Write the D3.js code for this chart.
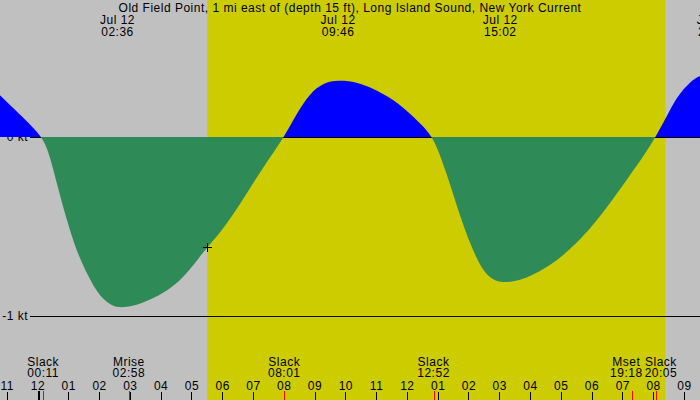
<!DOCTYPE html>
<html>
<head>
<meta charset="utf-8">
<script src="https://cdn.jsdelivr.net/npm/d3@7"></script>
<style>
  body { margin: 0; background: #fff; }
  svg { display: block; font-family: "Liberation Sans", Arial, sans-serif; font-size: 12px; letter-spacing: 0.5px; }
</style>
</head>
<body>
<div id="chart"></div>
<script>
var width = 700;
var height = 400;

var title = "Old Field Point, 1 mi east of (depth 15 ft), Long Island Sound, New York Current";
var dayLabel = "Jul 12";

// current samples: hours after midnight Jul 12, knots (+ flood, - ebb)
var flowHours = [-1.22, -0.51, 0.18, 0.41, 0.68, 0.95, 1.22, 1.49, 1.76, 2.03, 2.36, 2.60,
    3.11, 3.66, 4.20, 4.74, 5.28, 5.52, 5.93, 6.35, 6.80, 7.34, 8.02, 8.42, 8.85, 9.29,
    9.77, 10.37, 10.91, 11.45, 11.99, 12.43, 12.87, 13.29, 13.73, 14.05, 14.38, 14.70,
    15.03, 15.46, 15.89, 16.43, 16.98, 17.52, 18.06, 18.60, 19.14, 19.68, 20.08, 20.44,
    20.77, 21.20, 21.52, 22.00];
var flowKnots = [0.234, 0.116, 0, -0.110, -0.295, -0.463, -0.612, -0.723, -0.814, -0.890, -0.936, -0.955,
    -0.946, -0.909, -0.862, -0.786, -0.667, -0.615, -0.535, -0.435, -0.314, -0.166, 0, 0.132, 0.244, 0.303,
    0.318, 0.308, 0.271, 0.221, 0.150, 0.076, 0, -0.202, -0.444, -0.592, -0.723, -0.788,
    -0.815, -0.807, -0.788, -0.741, -0.676, -0.593, -0.490, -0.370, -0.240, -0.110, 0, 0.113,
    0.225, 0.308, 0.346, 0.360];

// max current times (top labels)
var peakTimes = ["02:36", "09:46", "15:02", "21:59"];

// events along the bottom
var eventNames = ["Slack", "Mrise", "Slack", "Slack", "Mset", "Slack"];
var eventTimes = ["00:11", "02:58", "08:01", "12:52", "19:18", "20:05"];

var sunTimes = ["05:31", "20:24"];   // sunrise, sunset
var markTime = "05:31";              // cross on the curve

var knotTicks = [0, -1];
var hourTicks = d3.range(-1, 22);

function hrs(s) {
    var p = s.split(":");
    return +p[0] + (+p[1]) / 60;
}

var flow = flowHours.map(function (h, i) { return { t: h, v: flowKnots[i] }; });

var x = d3.scaleLinear().domain([0, 20]).range([37.5, 653.1]);
var y = d3.scaleLinear().domain([-1, 0]).range([316, 137]);

var svg = d3.select('#chart')
    .append('svg')
    .attr('width', width)
    .attr('height', height);

// night background + daylight band
svg.append('rect')
    .attr('width', width).attr('height', height)
    .attr('fill', '#c0c0c0');

svg.append('rect')
    .attr('x', x(hrs(sunTimes[0])))
    .attr('y', 0)
    .attr('width', x(hrs(sunTimes[1])) - x(hrs(sunTimes[0])))
    .attr('height', height)
    .attr('fill', '#cccc00');

// knot reference lines (drawn under the fills)
svg.selectAll('.kline')
    .data(knotTicks)
    .enter()
    .append('line')
    .attr('class', 'kline')
    .attr('x1', 30).attr('x2', width)
    .attr('y1', function (d) { return y(d) + 0.5; })
    .attr('y2', function (d) { return y(d) + 0.5; })
    .attr('stroke', '#000')
    .attr('shape-rendering', 'crispEdges');

svg.selectAll('.klabel')
    .data(knotTicks)
    .enter()
    .append('text')
    .attr('class', 'klabel')
    .attr('x', 28)
    .attr('y', function (d) { return y(d); })
    .attr('dy', '0.35em')
    .attr('text-anchor', 'end')
    .text(function (d) { return d + " kt"; });

// flood above zero in blue, ebb below in green
var defs = svg.append('defs');
defs.append('clipPath').attr('id', 'above')
    .append('rect').attr('x', 0).attr('y', 0).attr('width', width).attr('height', y(0));
defs.append('clipPath').attr('id', 'below')
    .append('rect').attr('x', 0).attr('y', y(0)).attr('width', width).attr('height', height - y(0));

var area = d3.area()
    .x(function (d) { return x(d.t); })
    .y0(y(0))
    .y1(function (d) { return y(d.v); })
    .curve(d3.curveBasis);

svg.append('path')
    .datum(flow)
    .attr('d', area)
    .attr('fill', '#0000ff')
    .attr('clip-path', 'url(#above)');

svg.append('path')
    .datum(flow)
    .attr('d', area)
    .attr('fill', '#2e8b57')
    .attr('clip-path', 'url(#below)');

// cross marker on the curve
var mt = hrs(markTime);
var bi = d3.bisector(function (d) { return d.t; }).left(flow, mt);
var a = flow[Math.max(bi - 1, 0)], b = flow[bi];
var mv = b.t === a.t ? b.v : a.v + (b.v - a.v) * (mt - a.t) / (b.t - a.t);
var cross = svg.append('g')
    .attr('transform', 'translate(' + Math.round(x(mt)) + ',' + Math.round(y(mv)) + ')');
cross.append('line').attr('x1', -4.5).attr('x2', 4.5).attr('y1', 0.5).attr('y2', 0.5)
    .attr('stroke', '#000').attr('shape-rendering', 'crispEdges');
cross.append('line').attr('x1', 0.5).attr('x2', 0.5).attr('y1', -4.5).attr('y2', 4.5)
    .attr('stroke', '#000').attr('shape-rendering', 'crispEdges');

// title + peak labels
svg.append('text')
    .attr('x', width / 2).attr('y', 12)
    .attr('text-anchor', 'middle')
    .text(title);

var peaks = svg.selectAll('.peak')
    .data(peakTimes)
    .enter()
    .append('text')
    .attr('class', 'peak')
    .attr('text-anchor', 'middle')
    .attr('transform', function (d) { return 'translate(' + x(hrs(d)) + ',0)'; });
peaks.append('tspan').attr('x', 0).attr('y', 24).text(dayLabel);
peaks.append('tspan').attr('x', 0).attr('y', 36).text(function (d) { return d; });

// hour axis
var axis = d3.axisTop(x)
    .tickValues(hourTicks)
    .tickSize(8)
    .tickPadding(2)
    .tickFormat(function (h) {
        var v = ((h % 12) + 12) % 12 || 12;
        return (v < 10 ? '0' : '') + v;
    });

var gAxis = svg.append('g')
    .attr('transform', 'translate(0,' + height + ')')
    .call(axis);
gAxis.select('.domain').remove();
gAxis.selectAll('line').attr('shape-rendering', 'crispEdges');
gAxis.selectAll('text')
    .attr('font-family', '"Liberation Sans", Arial, sans-serif')
    .attr('font-size', 12)
    .attr('fill', '#000');

// day boundary at midnight
svg.append('line')
    .attr('x1', Math.round(x(0)) + 1).attr('x2', Math.round(x(0)) + 1)
    .attr('y1', 391).attr('y2', height)
    .attr('stroke', '#000').attr('stroke-width', 2)
    .attr('shape-rendering', 'crispEdges');

// event marks + labels
svg.selectAll('.emark')
    .data(eventTimes)
    .enter()
    .append('line')
    .attr('class', 'emark')
    .attr('x1', function (d) { return Math.round(x(hrs(d))) + 0.5; })
    .attr('x2', function (d) { return Math.round(x(hrs(d))) + 0.5; })
    .attr('y1', 391).attr('y2', height)
    .attr('stroke', '#ff0000')
    .attr('shape-rendering', 'crispEdges');

var events = eventNames.map(function (n, i) {
    return { name: n, time: eventTimes[i], cx: x(hrs(eventTimes[i])) };
});

var ev = svg.selectAll('.event')
    .data(events)
    .enter()
    .append('text')
    .attr('class', 'event')
    .attr('text-anchor', 'middle');
ev.append('tspan').attr('x', 0).attr('y', 366).text(function (d) { return d.name; });
ev.append('tspan').attr('x', 0).attr('y', 377).text(function (d) { return d.time; });

// push overlapping labels apart
ev.each(function (d) { d.w = this.getBBox().width; });
for (var k = 0; k < 5; k++) {
    for (var i = 1; i < events.length; i++) {
        var p = events[i - 1], q = events[i];
        var need = (p.w + q.w) / 2 + 2;
        if (q.cx - p.cx < need) {
            var s = (need - (q.cx - p.cx)) / 2;
            p.cx -= s;
            q.cx += s;
        }
    }
}
ev.attr('transform', function (d) { return 'translate(' + d.cx + ',0)'; });
</script>
</body>
</html>
